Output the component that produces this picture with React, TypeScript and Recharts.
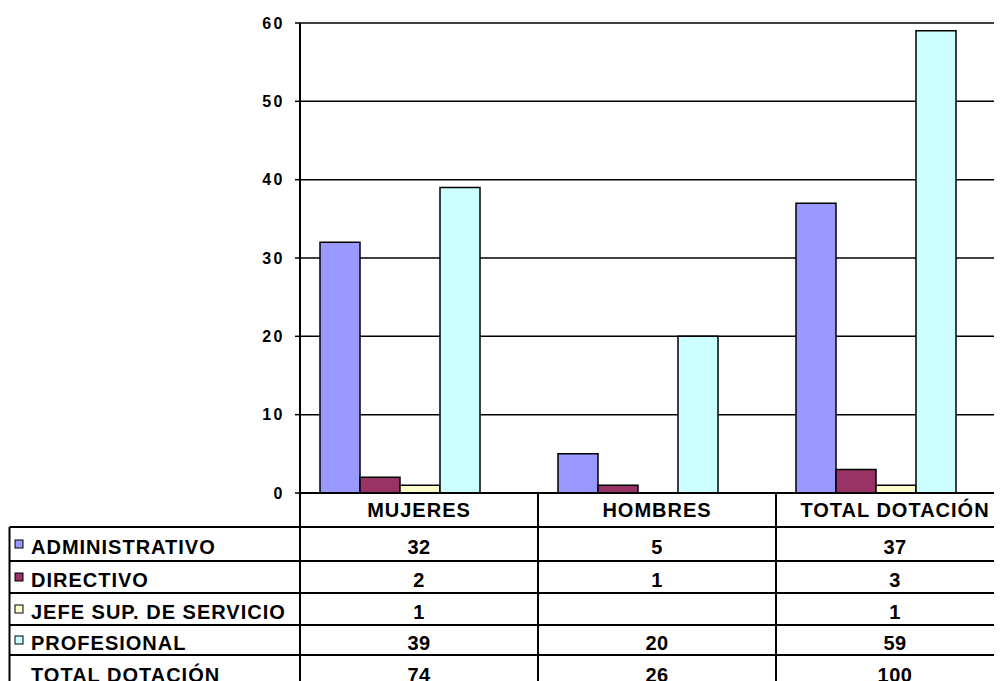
import React from "react";
import {
  BarChart,
  Bar,
  XAxis,
  YAxis,
  CartesianGrid,
  Customized,
} from "recharts";

const categories = ["MUJERES", "HOMBRES", "TOTAL DOTACIÓN"];
const administrativo = [32, 5, 37];
const directivo = [2, 1, 3];
const jefeSup = [1, null, 1];
const profesional = [39, 20, 59];
const totalDotacion = [74, 26, 100];
const yTicks = [0, 10, 20, 30, 40, 50, 60];

const series = [
  { key: "adm", name: "ADMINISTRATIVO", color: "#9999FF", values: administrativo },
  { key: "dir", name: "DIRECTIVO", color: "#993366", values: directivo },
  { key: "jefe", name: "JEFE SUP. DE SERVICIO", color: "#FFFFCC", values: jefeSup },
  { key: "prof", name: "PROFESIONAL", color: "#CCFFFF", values: profesional },
  { key: "total", name: "TOTAL DOTACIÓN", color: null, values: totalDotacion },
];

const data = categories.map((c, i) => {
  const row: Record<string, any> = { name: c };
  series.forEach((s) => (row[s.key] = s.values[i]));
  return row;
});

const FONT = '"Liberation Sans", Arial, Helvetica, sans-serif';
const W = 1010;
const H = 700;
const M = { top: 15, right: 4, left: 232, bottom: 185 };
const Y_W = 60;
const X_H = 30;
// plot box (svg coords)
const PL = M.left + Y_W;
const PR = W - M.right;
const PB = H - M.bottom - X_H;
const BAND = (PR - PL) / categories.length;
// table rows (svg coords)
const HEAD_BOTTOM = PB + 34;
const ROW_Y = [0, 34, 66, 98, 128, 162].map((d) => HEAD_BOTTOM + d);
const TABLE_LEFT = 1.5;

const YTick = (props: any) => {
  const { x, y, payload } = props;
  return (
    <text
      x={x}
      y={y}
      dy="0.36em"
      textAnchor="end"
      fontFamily={FONT}
      fontWeight="bold"
      fontSize={16}
      letterSpacing={2.5}
      fill="#000"
    >
      {payload.value}
    </text>
  );
};

const XTick = (props: any) => {
  const { x, y, payload } = props;
  return (
    <text
      x={x}
      y={y + 24}
      textAnchor="middle"
      fontFamily={FONT}
      fontWeight="bold"
      fontSize={20}
      letterSpacing={1}
      fill="#000"
    >
      {payload.value}
    </text>
  );
};

const DataTable = () => {
  const lineProps = { stroke: "#000", strokeWidth: 2 };
  return (
    <g>
      <line x1={TABLE_LEFT} x2={TABLE_LEFT} y1={ROW_Y[0]} y2={H} {...lineProps} />
      {categories.map((_, i) => (
        <line key={i} x1={PL + BAND * i} x2={PL + BAND * i} y1={PB} y2={H} {...lineProps} />
      ))}
      <line x1={PR} x2={PR} y1={PB} y2={H} {...lineProps} />
      {ROW_Y.map((y, i) => (
        <line key={i} x1={TABLE_LEFT} x2={PR} y1={y} y2={y} {...lineProps} />
      ))}
      {series.map((s, r) => {
        const cy = (ROW_Y[r] + ROW_Y[r + 1]) / 2;
        return (
          <g key={s.key}>
            {s.color && (
              <rect x={7} y={cy - 4} width={8} height={8} fill={s.color} stroke="#000" strokeWidth={1} />
            )}
            <text
              x={23}
              y={cy + 9.5}
              fontFamily={FONT}
              fontWeight="bold"
              fontSize={20}
              letterSpacing={1}
              fill="#000"
            >
              {s.name}
            </text>
            {s.values.map((v, c) =>
              v == null ? null : (
                <text
                  key={c}
                  x={PL + BAND * (c + 0.5)}
                  y={cy + 9.5}
                  textAnchor="middle"
                  fontFamily={FONT}
                  fontWeight="bold"
                  fontSize={20}
                  letterSpacing={0.5}
                  fill="#000"
                >
                  {v}
                </text>
              )
            )}
          </g>
        );
      })}
    </g>
  );
};

export default function App() {
  return (
    <div style={{ width: 994, height: 673, overflow: "hidden", background: "#fff" }}>
      <BarChart
        width={W}
        height={H}
        data={data}
        margin={M}
        barCategoryGap={20}
        barGap={0}
      >
        <CartesianGrid vertical={false} stroke="#000" strokeWidth={1.5} />
        <XAxis
          dataKey="name"
          height={X_H}
          tick={<XTick />}
          tickLine={false}
          tickSize={0}
          tickMargin={0}
          axisLine={{ stroke: "#000", strokeWidth: 2 }}
          interval={0}
        />
        <YAxis
          width={Y_W}
          domain={[0, 60]}
          ticks={yTicks}
          allowDataOverflow
          tick={<YTick />}
          tickSize={5}
          tickMargin={10}
          tickLine={{ stroke: "#000", strokeWidth: 1.5 }}
          axisLine={{ stroke: "#000", strokeWidth: 2 }}
        />
        {series.map((s) => (
          <Bar
            key={s.key}
            dataKey={s.key}
            name={s.name}
            fill={s.color ?? "none"}
            stroke={s.color ? "#000" : "none"}
            strokeWidth={1.5}
            isAnimationActive={false}
          />
        ))}
        <Customized component={<DataTable />} />
      </BarChart>
    </div>
  );
}
